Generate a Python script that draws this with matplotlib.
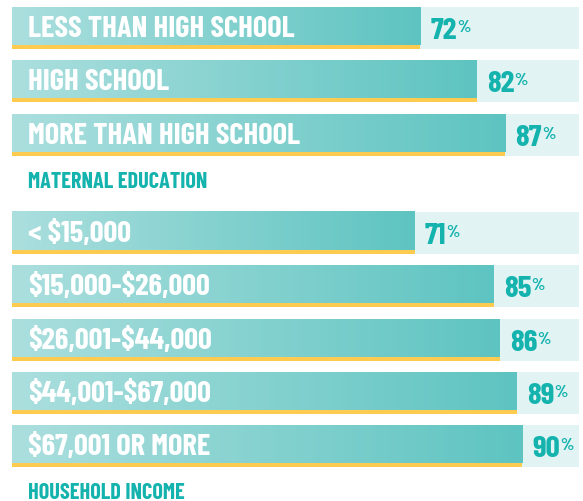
import numpy as np
import matplotlib.pyplot as plt
from matplotlib.colors import LinearSegmentedColormap
from matplotlib.patches import Rectangle

# data
edu_labels = ["LESS THAN HIGH SCHOOL", "HIGH SCHOOL", "MORE THAN HIGH SCHOOL"]
edu_values = [72, 82, 87]
income_labels = ["< $15,000", "$15,000-$26,000", "$26,001-$44,000",
                 "$44,001-$67,000", "$67,001 OR MORE"]
income_values = [71, 85, 86, 89, 90]
section_titles = ["MATERNAL EDUCATION", "HOUSEHOLD INCOME"]

TEAL = "#14b3ae"
TRACK = "#e2f3f3"
YELLOW = "#fdcb4f"
grad = LinearSegmentedColormap.from_list("bar", ["#abdfde", "#5ec4c1"])

plt.rcParams['font.family'] = ['Barlow Condensed', 'DejaVu Sans']

fig = plt.figure(figsize=(5.83, 5.01), dpi=100)
ax = fig.add_axes([12 / 583, 0, 567 / 583, 1])

bar_h = 38
line_h = 4
pitch = 53.3


def draw_bar(top, label, value):
    ax.add_patch(Rectangle((0, top), 100, bar_h + line_h, color=TRACK, lw=0, zorder=1))
    ax.imshow(np.linspace(0, 1, 256)[None, :], cmap=grad, aspect='auto',
              extent=(0, value, top + bar_h, top), zorder=2)
    ax.add_patch(Rectangle((0, top + bar_h), value, line_h, color=YELLOW, lw=0, zorder=3))
    ax.text(2.8, top + 30, label, color='white', fontsize=22, fontweight='bold',
            va='baseline', ha='left', zorder=4, parse_math=False)
    t = ax.text(value + 1.8, top + 32, str(value), color=TEAL, fontsize=22.5,
                fontweight='bold', va='baseline', ha='left', zorder=4)
    # small raised percent sign right after the number
    ax.annotate('%', xy=(1, 1), xycoords=t, xytext=(0, -1.5), textcoords='offset points',
                va='top', ha='left', fontsize=12.5, color=TEAL, fontweight='bold', zorder=4)


def draw_group(start, labels, values, title):
    top = start
    for lab, val in zip(labels, values):
        draw_bar(top, lab, val)
        top += pitch
    ax.text(2.8, top - pitch + 74, title, color=TEAL, fontsize=16, fontweight='bold',
            va='baseline', ha='left')


draw_group(7, edu_labels, edu_values, section_titles[0])
draw_group(212, income_labels, income_values, section_titles[1])

ax.set_xlim(0, 100)
ax.set_ylim(501, 0)
ax.axis('off')

fig.savefig("out.png", dpi=100)
